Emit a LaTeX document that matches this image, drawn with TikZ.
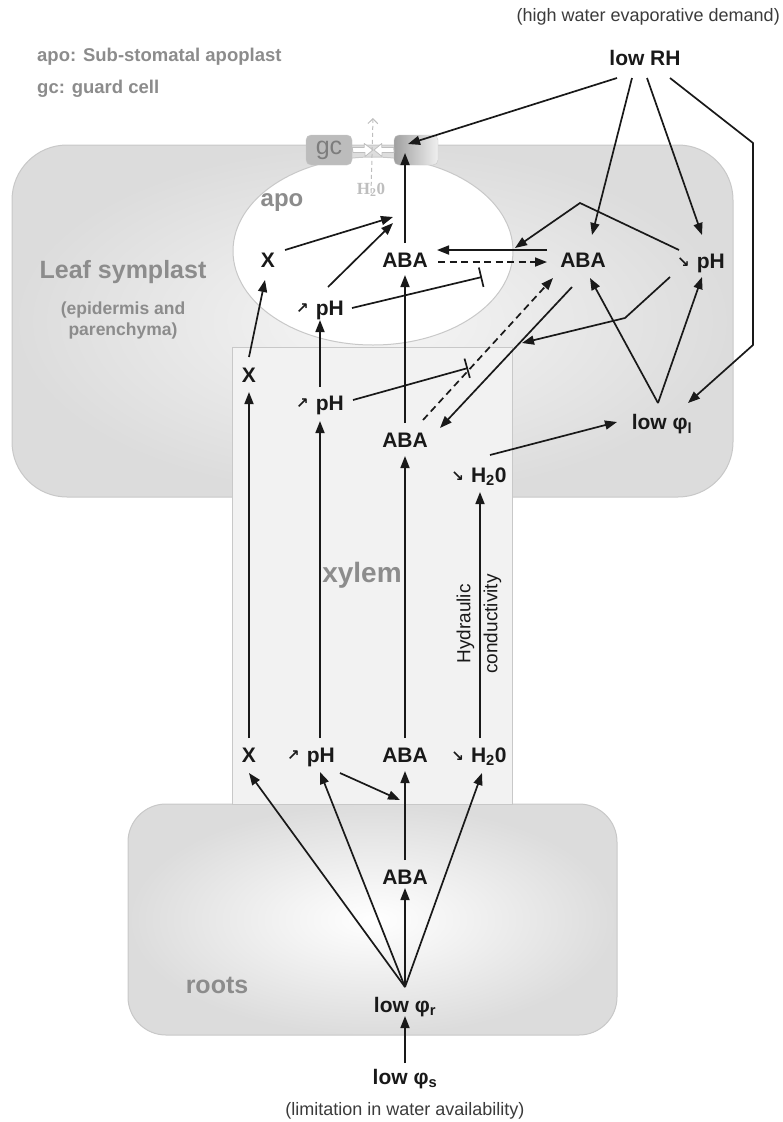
\documentclass[tikz,border=0pt]{standalone}
\usepackage{fontspec}
\setmainfont{Liberation Sans}
\newfontfamily\symfont{DejaVu Sans}
\newfontfamily\serfont{Liberation Serif}
\usetikzlibrary{arrows.meta}
\definecolor{ink}{RGB}{25,25,25}
\definecolor{labgray}{RGB}{140,140,140}
\definecolor{edgegray}{RGB}{200,200,200}
\definecolor{leafin}{RGB}{246,246,246}
\definecolor{leafout}{RGB}{220,220,220}
\definecolor{xylfill}{RGB}{242,242,242}
\definecolor{gcfill}{RGB}{188,188,188}
\definecolor{gctext}{RGB}{125,125,125}
\definecolor{ghost}{RGB}{190,190,190}
\newcommand\myup{{\symfont\fontsize{15}{15}\selectfont\raisebox{2pt}{↗}}}
\newcommand\mydn{{\symfont\fontsize{15}{15}\selectfont\raisebox{1pt}{↘}}}
\begin{document}
\begin{tikzpicture}[x=1pt,y=-1pt,
  lbl/.style={font=\fontsize{21}{25}\selectfont\bfseries, text=ink, inner sep=0pt, text height=15pt, text depth=0pt},
  reg/.style={text=labgray, inner sep=0pt},
  arr/.style={draw=ink, line width=1.7pt, -{Triangle[length=12pt,width=9pt]}},
  dsh/.style={arr, dash pattern=on 7pt off 4.5pt},
  inh/.style={draw=ink, line width=1.7pt, -{Bar[width=20pt,line width=1.7pt]}},
  hol/.style={draw=ghost, fill=white, line width=0.8pt, line join=round},
  boxedge/.style={draw=edgegray, line width=1pt}
]
\useasboundingbox (0,0) rectangle (782,1122);

% ---- compartments
\shade[inner color=leafin, outer color=leafout, rounded corners=55pt] (12,145) rectangle (733,497);
\draw[boxedge, rounded corners=55pt] (12,145) rectangle (733,497);
\shade[inner color=white, outer color=leafout, rounded corners=38pt] (128,804) rectangle (617,1035);
\draw[boxedge, rounded corners=38pt] (128,804) rectangle (617,1035);
\filldraw[boxedge, fill=xylfill] (232,347) rectangle (512,804);
\filldraw[boxedge, fill=white] (373,251) ellipse [x radius=140, y radius=94];

% ---- guard cells
\node[draw=edgegray, fill=gcfill, rounded corners=5pt, minimum width=46pt, minimum height=30pt, inner sep=0pt,
      text=gctext, font=\fontsize{25}{25}\selectfont] (gcL) at (329,150) {gc};
\node[draw=edgegray, shade, left color=gray!75, right color=gray!12, rounded corners=5pt, minimum width=44pt,
      minimum height=30pt, inner sep=0pt] (gcR) at (416,150) {};
\coordinate (hc) at (373,150);
\filldraw[hol] (gcL.east) ++(0,-2.5) -- ++(12,0) -- ++(0,-4) -- (hc) -- ++(-8,6.5) -- ++(0,-4) -- ++(-12,0) -- cycle;
\filldraw[hol] (gcR.west) ++(0,-2.5) -- ++(-12,0) -- ++(0,-4) -- ([xshift=1pt]hc) -- ++(8,6.5) -- ++(0,-4) -- ++(12,0) -- cycle;
\node[font=\serfont\bfseries\fontsize{17}{17}\selectfont, text=ghost, inner sep=0pt] (h2o) at (371,190) {H\textsubscript{2}0};
\coordinate (wv) at (373,118);
\draw[ghost, line width=1pt, dash pattern=on 4pt off 3pt, -{Straight Barb[length=5pt,width=10pt]}] ([yshift=-10pt]h2o.north) -- (wv);

% ---- legend and region labels
\node[anchor=east, font=\fontsize{18}{20}\selectfont, text=ink!85, inner sep=0pt] (hwd) at (780,17) {(high water evaporative demand)};
\node[anchor=west, font=\fontsize{18.5}{20}\selectfont\bfseries, reg] (legapo) at (37,57) {apo: Sub-stomatal apoplast};
\node[anchor=west, font=\fontsize{18.5}{20}\selectfont\bfseries, reg] (leggc) at (37,89) {gc: guard cell};
\node[reg, font=\fontsize{25}{28}\selectfont\bfseries] (leafL) at (123,272) {Leaf symplast};
\node[reg, align=center, font=\fontsize{17.5}{21}\selectfont\bfseries] (leafS) at (123,320) {(epidermis and\\parenchyma)};
\node[reg, font=\fontsize{24}{28}\selectfont\bfseries] (apoL) at (282,203) {apo};
\node[reg, font=\fontsize{28}{30}\selectfont\bfseries] (xylL) at (362,575) {xylem};
\node[reg, font=\fontsize{25}{28}\selectfont\bfseries] (rootL) at (217,985) {roots};
\node[rotate=90, align=center, inner sep=0pt, text=ink, font=\fontsize{19}{27}\selectfont] (hyd) at (479,624) {Hydraulic\\conductivity};
\node[font=\fontsize{18}{20}\selectfont, text=ink!85, inner sep=0pt] (cap) at (405,1111) {(limitation in water availability)};

% ---- nodes
\node[lbl] (lowRH) at (645,58) {low RH};
\node[lbl] (aX) at (268,260) {X};
\node[lbl] (apH) at (320,308) {\myup\hspace{7pt}pH};
\node[lbl] (aABA) at (405,260) {ABA};
\node[lbl] (rABA) at (583,260) {ABA};
\node[lbl] (rpH) at (701,261) {\mydn\hspace{7pt}pH};
\node[lbl] (lphil) at (662,422) {low φ\textsubscript{l}};
\node[lbl] (xX) at (249,375) {X};
\node[lbl] (xpH) at (320,403) {\myup\hspace{7pt}pH};
\node[lbl] (xABA) at (405,440) {ABA};
\node[lbl] (xH) at (479,475) {\mydn\hspace{7pt}H\textsubscript{2}0};
\node[lbl] (bX) at (249,755) {X};
\node[lbl] (bpH) at (311,755) {\myup\hspace{7pt}pH};
\node[lbl] (bABA) at (405,755) {ABA};
\node[lbl] (bH) at (479,755) {\mydn\hspace{7pt}H\textsubscript{2}0};
\node[lbl] (rtABA) at (405,877) {ABA};
\node[lbl] (lphir) at (405,1005) {low φ\textsubscript{r}};
\node[lbl] (lphis) at (405,1077) {low φ\textsubscript{s}};

% ---- connectors from low RH
\draw[arr] ([shift={(-28,20)}]lowRH.center) -- ([shift={(-8,-6)}]gcR.center);
\draw[arr] ([shift={(-13,20)}]lowRH.center) -- ([shift={(9,-25)}]rABA.center);
\draw[arr] ([shift={(2,20)}]lowRH.center) -- ([shift={(1,-26)}]rpH.center);
\coordinate (brT) at (753,143);
\coordinate (brB) at (753,345);
\draw[arr] ([shift={(25,20)}]lowRH.center) -- (brT) -- (brB) -- ([shift={(26,-19)}]lphil.center);

% ---- leaf symplast / apoplast
\coordinate (peak) at (580,203);
\draw[arr] ([shift={(-22,-11)}]rpH.center) -- (peak) -- ([shift={(-68,-12)}]rABA.center);
\draw[arr] ([shift={(-36,-10)}]rABA.center) -- ([shift={(32,-10)}]aABA.center);
\draw[dsh] ([shift={(33,2)}]aABA.center) -- ([shift={(-36,2)}]rABA.center);
\draw[arr] ([shift={(0,-17)}]aABA.center) -- ([shift={(-11,3)}]gcR.center);
\draw[arr] ([shift={(17,-10)}]aX.center) -- ([shift={(-12,-43)}]aABA.center);
\draw[arr] ([shift={(8,-21)}]apH.center) -- ([shift={(-12,-37)}]aABA.center);
\draw[inh] ([shift={(32,0)}]apH.center) -- ([shift={(77,17)}]aABA.center);
\coordinate (bend) at (625,318);
\draw[arr] ([shift={(-31,16)}]rpH.center) -- (bend) -- ([shift={(-61,83)}]rABA.center);
\draw[arr] ([shift={(-11,27)}]rABA.center) -- ([shift={(35,-12)}]xABA.center);
\draw[dsh] ([shift={(18,-20)}]xABA.center) -- ([shift={(-30,18)}]rABA.center);
\draw[inh] ([shift={(33,-3)}]xpH.center) -- ([shift={(63,-72)}]xABA.center);
\draw[arr] ([shift={(-4,-19)}]lphil.center) -- ([shift={(7,18)}]rABA.center);
\draw[arr] ([shift={(-4,-19)}]lphil.center) -- ([shift={(1,16)}]rpH.center);
\draw[arr] ([shift={(11,-20)}]xH.center) -- ([shift={(-45,0)}]lphil.center);

% ---- xylem to leaf
\draw[arr] ([shift={(0,-18)}]xX.center) -- ([shift={(-3,20)}]aX.center);
\draw[arr] ([shift={(0,-16)}]xpH.center) -- ([shift={(0,12)}]apH.center);
\draw[arr] ([shift={(0,-17)}]xABA.center) -- ([shift={(0,15)}]aABA.center);

% ---- along the xylem
\draw[arr] ([shift={(0,-17)}]bX.center) -- ([shift={(0,17)}]xX.center);
\draw[arr] ([shift={(9,-17)}]bpH.center) -- ([shift={(0,18)}]xpH.center);
\draw[arr] ([shift={(0,-17)}]bABA.center) -- ([shift={(0,16)}]xABA.center);
\draw[arr] ([shift={(1,-17)}]bH.center) -- ([shift={(1,17)}]xH.center);
\draw[arr] ([shift={(29,18)}]bpH.center) -- ([shift={(-5,45)}]bABA.center);

% ---- roots
\draw[arr] ([shift={(0,-18)}]lphir.center) -- ([shift={(0,18)}]bX.center);
\draw[arr] ([shift={(0,-18)}]lphir.center) -- ([shift={(9,17)}]bpH.center);
\draw[arr] ([shift={(0,-18)}]lphir.center) -- ([shift={(0,11)}]rtABA.center);
\draw[arr] ([shift={(0,-18)}]lphir.center) -- ([shift={(3,18)}]bH.center);
\draw[arr] ([shift={(0,-17)}]rtABA.center) -- ([shift={(0,16)}]bABA.center);
\draw[arr] ([shift={(0,-14)}]lphis.center) -- ([shift={(0,11)}]lphir.center);
\end{tikzpicture}
\end{document}
